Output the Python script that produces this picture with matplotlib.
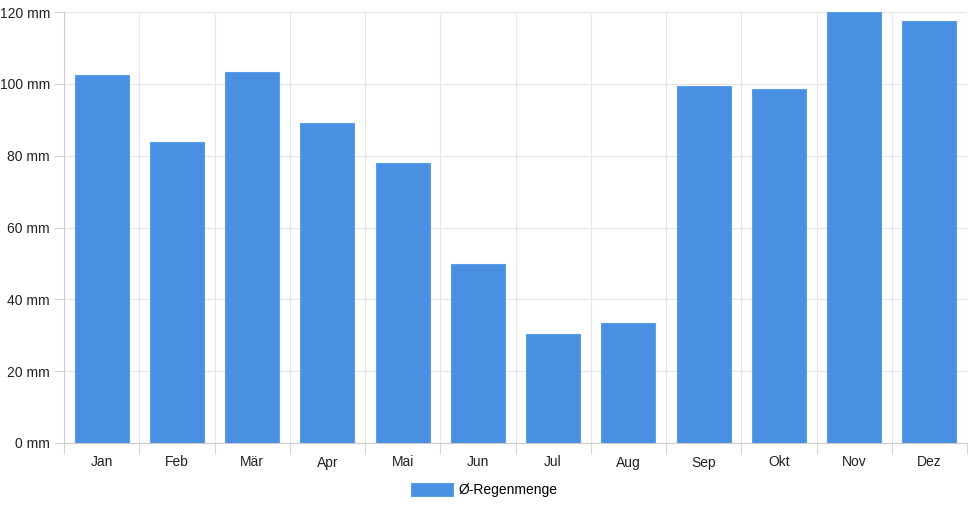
import matplotlib.pyplot as plt
import numpy as np

# data
months = ['Jan', 'Feb', 'Mär', 'Apr', 'Mai', 'Jun', 'Jul', 'Aug', 'Sep', 'Okt', 'Nov', 'Dez']
rain = [102.4, 83.8, 103.2, 89.1, 78.0, 49.8, 30.4, 33.4, 99.3, 98.6, 120.0, 117.4]
y_ticks = [0, 20, 40, 60, 80, 100, 120]
series_name = 'Ø-Regenmenge'

plt.rcParams['font.family'] = ['Liberation Sans', 'DejaVu Sans']

fig = plt.figure(figsize=(9.68, 5.08), dpi=100)
ax = fig.add_axes([64 / 968, 65 / 508, 903 / 968, 431 / 508])

x = np.arange(len(months))
ax.bar(x, rain, width=0.72, color='#4a90e2', edgecolor='#5c9de6', linewidth=0.8,
       label=series_name, zorder=3)

ax.set_xlim(-0.5, len(months) - 0.5)
ax.set_ylim(0, 120)
ax.set_yticks(y_ticks)
ax.set_yticklabels([f'{v} mm' for v in y_ticks])
ax.set_xticks(x)
ax.set_xticklabels(months)

# vertical grid at category boundaries
ax.set_xticks(np.arange(-0.5, len(months)), minor=True)
ax.grid(True, axis='y', color='#e6e6e6', linewidth=0.8, zorder=0)
ax.grid(True, axis='x', which='minor', color='#e6e6e6', linewidth=0.8, zorder=0)
ax.tick_params(axis='x', which='major', length=0, pad=9, labelsize=10, colors='#222222')
ax.tick_params(axis='x', which='minor', length=8, color='#d6d6d6', width=0.8)
ax.tick_params(axis='y', length=7, width=0.8, labelsize=10, pad=3,
               colors='#d6d6d6', labelcolor='#222222')

for s in ['top', 'right']:
    ax.spines[s].set_visible(False)
for s in ['left', 'bottom']:
    ax.spines[s].set_color('#cccccc')
    ax.spines[s].set_linewidth(0.8)

fig.legend(loc='center', bbox_to_anchor=(484 / 968, 18 / 508), frameon=False,
           fontsize=10, handlelength=3.0, handleheight=1.1, handletextpad=0.4)

fig.savefig('out.png', dpi=100)
